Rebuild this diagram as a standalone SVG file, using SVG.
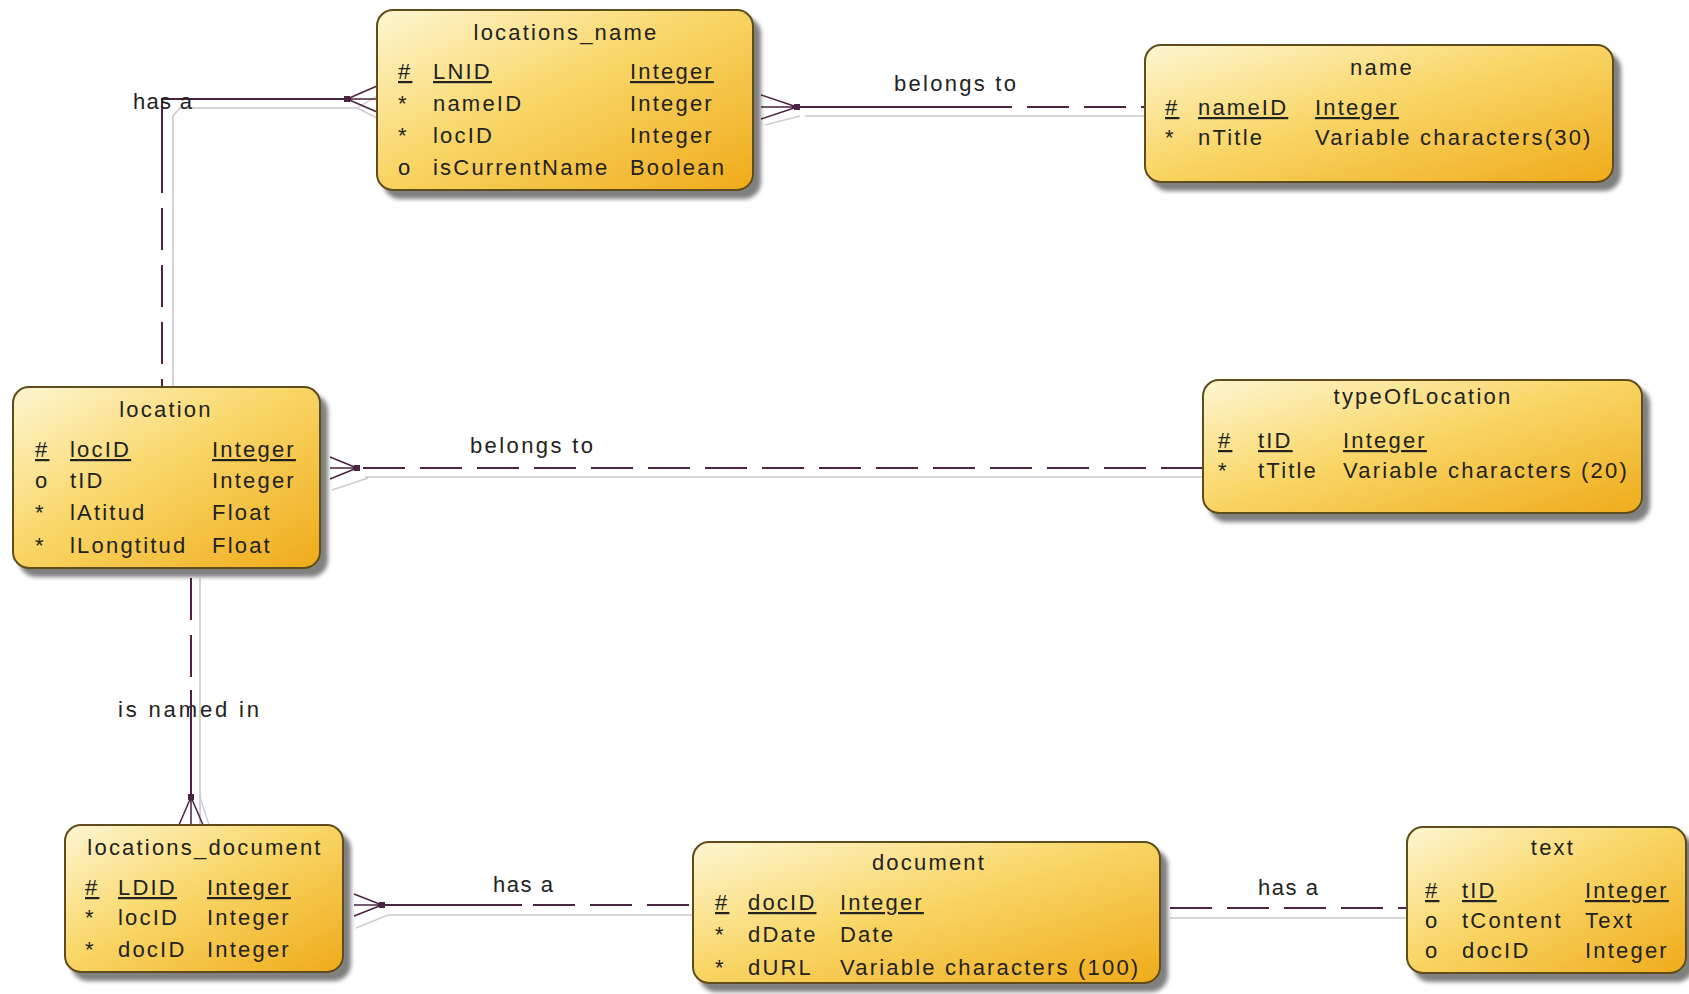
<svg xmlns="http://www.w3.org/2000/svg" width="1689" height="994" viewBox="0 0 1689 994">
<defs>
<linearGradient id="gold" x1="0" y1="0" x2="1" y2="1">
<stop offset="0" stop-color="#fdf6d2"/>
<stop offset="0.45" stop-color="#f9d769"/>
<stop offset="1" stop-color="#efab1a"/>
</linearGradient>
<filter id="sh" x="-5%" y="-5%" width="115%" height="125%">
<feGaussianBlur in="SourceAlpha" stdDeviation="2"/>
<feOffset dx="7" dy="8"/>
<feComponentTransfer><feFuncA type="linear" slope="0.5"/></feComponentTransfer>
<feMerge><feMergeNode/><feMergeNode in="SourceGraphic"/></feMerge>
</filter>
</defs>
<style>
.box{fill:url(#gold);stroke:#5e4c1e;stroke-width:2}
text{font-family:"Liberation Sans",Arial,sans-serif;font-size:22px;fill:#222222}
.e{letter-spacing:2.2px}
.pk{text-decoration:underline}
.ln{fill:none;stroke:#4a2440;stroke-width:2}
.dash{stroke-dasharray:42 15}
.gr{fill:none;stroke:#cdc6cb;stroke-width:1.6}
.ft{fill:none;stroke:#4a2440;stroke-width:1.5}
.gft{fill:none;stroke:#d2cbd0;stroke-width:1.4}
.dot{fill:#4a2440}
</style>
<rect width="1689" height="994" fill="#ffffff"/>

<g id="connectors">
<g id="c1">
<path class="gr" d="M357 108 H180 L173 116 V388"/>
<path class="gft" d="M357 108 L377 96 M357 108 L377 118"/>
<path class="ln" d="M347 99 H162 V151"/>
<path class="ln dash" d="M162 151 V388"/>
<path class="ft" d="M347 99 L377 86 M347 99 L377 99 M347 99 L377 112"/>
<rect class="dot" x="344" y="96" width="6" height="6"/>
</g>
<g id="c2">
<path class="gr" d="M805 116 H1145"/>
<path class="gft" d="M800 116 L765 125"/>
<path class="ln" d="M797 107 H970"/>
<path class="ln dash" d="M970 107 H1145"/>
<path class="ft" d="M797 107 L761 95 M797 107 L761 107 M797 107 L761 119"/>
<rect class="dot" x="794" y="104" width="6" height="6"/>
</g>
<g id="c3">
<path class="gr" d="M365 477 H1203"/>
<path class="gft" d="M368 478 L332 490"/>
<path class="ln dash" d="M363 468 H1203"/>
<path class="ft" d="M357 468 L330 457 M357 468 L330 468 M357 468 L330 479"/>
<rect class="dot" x="354" y="465" width="6" height="6"/>
</g>
<g id="c4">
<path class="gr" d="M200 578 V825"/>
<path class="gft" d="M200 797 L209 825"/>
<path class="ln dash" d="M191 578 V690"/>
<path class="ln" d="M191 690 V797"/>
<path class="ft" d="M191 797 L179 825 M191 797 L191 825 M191 797 L203 825"/>
<rect class="dot" x="188" y="794" width="6" height="6"/>
</g>
<g id="c5">
<path class="gr" d="M388 915 H693"/>
<path class="gft" d="M388 915 L356 928"/>
<path class="ln" d="M382 905 H522"/>
<path class="ln dash" d="M533 905 H693"/>
<path class="ft" d="M382 905 L354 894 M382 905 L354 905 M382 905 L354 916"/>
<rect class="dot" x="379" y="902" width="6" height="6"/>
</g>
<g id="c6">
<path class="gr" d="M1170 918 H1407"/>
<path class="ln dash" d="M1170 908 H1407"/>
</g>
<text x="133" y="109" textLength="59" lengthAdjust="spacing">has a</text>
<text x="894" y="91" textLength="122" lengthAdjust="spacing">belongs to</text>
<text x="470" y="453" textLength="123" lengthAdjust="spacing">belongs to</text>
<text x="118" y="717" textLength="141" lengthAdjust="spacing">is named in</text>
<text x="493" y="892" textLength="60" lengthAdjust="spacing">has a</text>
<text x="1258" y="895" textLength="60" lengthAdjust="spacing">has a</text>
</g>

<g id="locations_name">
<rect class="box" x="377" y="10" width="376" height="180" rx="16" filter="url(#sh)"/>
<text class="e" x="566" y="40" text-anchor="middle">locations_name</text>
<text class="e pk" x="398" y="79">#</text><text class="e pk" x="433" y="79">LNID</text><text class="e pk" x="630" y="79">Integer</text>
<text class="e" x="398" y="111">*</text><text class="e" x="433" y="111">nameID</text><text class="e" x="630" y="111">Integer</text>
<text class="e" x="398" y="143">*</text><text class="e" x="433" y="143">locID</text><text class="e" x="630" y="143">Integer</text>
<text class="e" x="398" y="175">o</text><text class="e" x="433" y="175">isCurrentName</text><text class="e" x="630" y="175">Boolean</text>
</g>

<g id="name">
<rect class="box" x="1145" y="45" width="468" height="137" rx="16" filter="url(#sh)"/>
<text class="e" x="1382" y="75" text-anchor="middle">name</text>
<text class="e pk" x="1165" y="115">#</text><text class="e pk" x="1198" y="115">nameID</text><text class="e pk" x="1315" y="115">Integer</text>
<text class="e" x="1165" y="145">*</text><text class="e" x="1198" y="145">nTitle</text><text class="e" x="1315" y="145">Variable characters(30)</text>
</g>

<g id="location">
<rect class="box" x="13" y="387" width="307" height="181" rx="16" filter="url(#sh)"/>
<text class="e" x="166" y="417" text-anchor="middle">location</text>
<text class="e pk" x="35" y="457">#</text><text class="e pk" x="70" y="457">locID</text><text class="e pk" x="212" y="457">Integer</text>
<text class="e" x="35" y="488">o</text><text class="e" x="70" y="488">tID</text><text class="e" x="212" y="488">Integer</text>
<text class="e" x="35" y="520">*</text><text class="e" x="70" y="520">lAtitud</text><text class="e" x="212" y="520">Float</text>
<text class="e" x="35" y="553">*</text><text class="e" x="70" y="553">lLongtitud</text><text class="e" x="212" y="553">Float</text>
</g>

<g id="typeOfLocation">
<rect class="box" x="1203" y="380" width="439" height="133" rx="16" filter="url(#sh)"/>
<text class="e" x="1423" y="404" text-anchor="middle">typeOfLocation</text>
<text class="e pk" x="1218" y="448">#</text><text class="e pk" x="1258" y="448">tID</text><text class="e pk" x="1343" y="448">Integer</text>
<text class="e" x="1218" y="478">*</text><text class="e" x="1258" y="478">tTitle</text><text class="e" x="1343" y="478">Variable characters (20)</text>
</g>

<g id="locations_document">
<rect class="box" x="65" y="825" width="278" height="147" rx="16" filter="url(#sh)"/>
<text class="e" x="205" y="855" text-anchor="middle">locations_document</text>
<text class="e pk" x="85" y="895">#</text><text class="e pk" x="118" y="895">LDID</text><text class="e pk" x="207" y="895">Integer</text>
<text class="e" x="85" y="925">*</text><text class="e" x="118" y="925">locID</text><text class="e" x="207" y="925">Integer</text>
<text class="e" x="85" y="957">*</text><text class="e" x="118" y="957">docID</text><text class="e" x="207" y="957">Integer</text>
</g>

<g id="document">
<rect class="box" x="693" y="842" width="467" height="141" rx="16" filter="url(#sh)"/>
<text class="e" x="929" y="870" text-anchor="middle">document</text>
<text class="e pk" x="715" y="910">#</text><text class="e pk" x="748" y="910">docID</text><text class="e pk" x="840" y="910">Integer</text>
<text class="e" x="715" y="942">*</text><text class="e" x="748" y="942">dDate</text><text class="e" x="840" y="942">Date</text>
<text class="e" x="715" y="975">*</text><text class="e" x="748" y="975">dURL</text><text class="e" x="840" y="975">Variable characters (100)</text>
</g>

<g id="text">
<rect class="box" x="1407" y="827" width="279" height="146" rx="16" filter="url(#sh)"/>
<text class="e" x="1553" y="855" text-anchor="middle">text</text>
<text class="e pk" x="1425" y="898">#</text><text class="e pk" x="1462" y="898">tID</text><text class="e pk" x="1585" y="898">Integer</text>
<text class="e" x="1425" y="928">o</text><text class="e" x="1462" y="928">tContent</text><text class="e" x="1585" y="928">Text</text>
<text class="e" x="1425" y="958">o</text><text class="e" x="1462" y="958">docID</text><text class="e" x="1585" y="958">Integer</text>
</g>
</svg>
